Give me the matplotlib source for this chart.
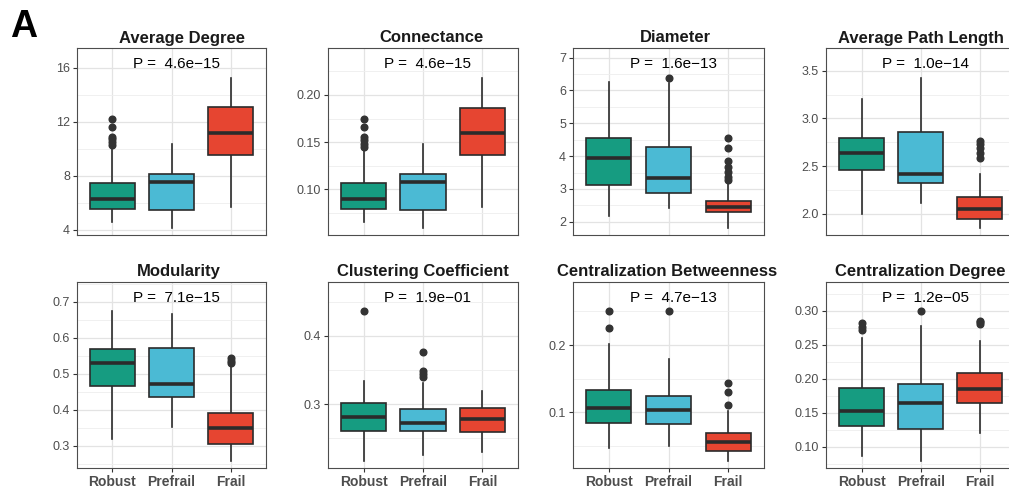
import matplotlib
matplotlib.use("Agg")
import matplotlib.pyplot as plt
from matplotlib.ticker import FixedLocator, FormatStrFormatter

plt.rcParams['font.family'] = ['Liberation Sans', 'DejaVu Sans']

# ---------------- data ----------------
groups = ["Robust", "Prefrail", "Frail"]
titles = ["Average Degree", "Connectance", "Diameter", "Average Path Length",
          "Modularity", "Clustering Coefficient", "Centralization Betweenness",
          "Centralization Degree"]
p_labels = ["P =  4.6e\u221215", "P =  4.6e\u221215", "P =  1.6e\u221213", "P =  1.0e\u221214",
            "P =  7.1e\u221215", "P =  1.9e\u221201", "P =  4.7e\u221213", "P =  1.2e\u221205"]

medians = [[6.27, 7.57, 11.2], [0.0894, 0.108, 0.160], [3.93, 3.32, 2.46], [2.634, 2.42, 2.046],
           [0.531, 0.472, 0.348], [0.2804, 0.2725, 0.278], [0.1068, 0.1034, 0.0554],
           [0.153, 0.1643, 0.1849]]
q1 = [[5.55, 5.48, 9.55], [0.0795, 0.078, 0.1367], [3.12, 2.88, 2.29], [2.455, 2.319, 1.95],
      [0.4667, 0.4344, 0.304], [0.2603, 0.2603, 0.2593], [0.0846, 0.083, 0.0425],
      [0.1309, 0.1256, 0.1643]]
q3 = [[7.50, 8.14, 13.07], [0.1067, 0.1162, 0.1864], [4.54, 4.27, 2.64], [2.80, 2.854, 2.178],
      [0.5686, 0.5706, 0.3917], [0.301, 0.2926, 0.2946], [0.1331, 0.1247, 0.0688],
      [0.1868, 0.1918, 0.2088]]
whisk_lo = [[4.57, 4.12, 5.72], [0.065, 0.0593, 0.0816], [2.17, 2.41, 1.82], [1.993, 2.115, 1.853],
            [0.318, 0.353, 0.258], [0.2166, 0.225, 0.2299], [0.0474, 0.050, 0.028],
            [0.0868, 0.0794, 0.1197]]
whisk_hi = [[10.15, 10.36, 15.27], [0.1434, 0.148, 0.2182], [6.27, 6.22, 3.22], [3.20, 3.427, 2.417],
            [0.674, 0.665, 0.518], [0.3338, 0.3304, 0.3196], [0.201, 0.179, 0.102],
            [0.2594, 0.2775, 0.2559]]
outliers = [
    [[12.2, 11.6, 10.9, 10.7, 10.5, 10.3], [], []],
    [[0.1745, 0.1657, 0.1557, 0.152, 0.148, 0.1451], [], []],
    [[], [6.39], [4.54, 4.26, 3.86, 3.68, 3.52, 3.37, 3.27]],
    [[], [], [2.766, 2.73, 2.686, 2.634, 2.59]],
    [[], [], [0.543, 0.535, 0.529]],
    [[0.437], [0.377, 0.349, 0.344, 0.340], []],
    [[0.251, 0.225], [0.251], [0.143, 0.1297, 0.1108]],
    [[0.2815, 0.2765, 0.2716], [0.300], [0.2853, 0.2830, 0.2804]],
]
ylims = [(3.63, 17.46), (0.0516, 0.2497), (1.595, 7.295), (1.777, 3.74),
         (0.238, 0.7547), (0.2059, 0.4794), (0.0172, 0.2938), (0.0687, 0.3422)]
major_ticks = [[4, 8, 12, 16], [0.10, 0.15, 0.20], [2, 3, 4, 5, 6, 7], [2.0, 2.5, 3.0, 3.5],
               [0.3, 0.4, 0.5, 0.6, 0.7], [0.3, 0.4], [0.1, 0.2], [0.10, 0.15, 0.20, 0.25, 0.30]]
minor_ticks = [[6, 10, 14], [0.075, 0.125, 0.175, 0.225], [2.5, 3.5, 4.5, 5.5, 6.5],
               [2.25, 2.75, 3.25], [0.25, 0.35, 0.45, 0.55, 0.65, 0.75], [0.25, 0.35, 0.45],
               [0.05, 0.15, 0.25], [0.075, 0.125, 0.175, 0.225, 0.275, 0.325]]
tick_fmt = ["%d", "%.2f", "%d", "%.1f", "%.1f", "%.1f", "%.1f", "%.2f"]

colors = ["#169C81", "#4BBAD4", "#E64531"]

# ---------------- layout ----------------
W, H = 1009, 496
fig = plt.figure(figsize=(W / 100, H / 100), dpi=100)
fig.patch.set_facecolor("white")

col_left = [77, 328, 573, 826]
col_w = [189, 190, 191, 189.5]
row_top = [48, 282]
row_h = [187, 186]
title_cx = [182, 431.5, 675, 920.5, 178.7, 422.7, 667.5, 920]
title_base = [42.5, 276]

edge = "#2b2b2b"
for i in range(8):
    r, c = divmod(i, 4)
    l, t, w, h = col_left[c], row_top[r], col_w[c], row_h[r]
    ax = fig.add_axes([l / W, 1 - (t + h) / H, w / W, h / H])
    ax.set_facecolor("white")
    stats = []
    for g in range(3):
        stats.append(dict(med=medians[i][g], q1=q1[i][g], q3=q3[i][g],
                          whislo=whisk_lo[i][g], whishi=whisk_hi[i][g],
                          fliers=outliers[i][g], label=groups[g]))
    bp = ax.bxp(stats, positions=[1, 2, 3], widths=0.76, patch_artist=True,
                showfliers=True,
                boxprops=dict(edgecolor=edge, linewidth=1.2),
                medianprops=dict(color=edge, linewidth=2.6),
                whiskerprops=dict(color=edge, linewidth=1.2),
                capprops=dict(linewidth=0),
                flierprops=dict(marker='o', markerfacecolor="#333333",
                                markeredgecolor="#333333", markersize=4.8))
    for patch, col in zip(bp['boxes'], colors):
        patch.set_facecolor(col)
    for b in bp['boxes']:
        b.set_zorder(3)
    for m in bp['medians']:
        m.set_zorder(4)

    ax.set_xlim(0.4, 3.6)
    ax.set_ylim(*ylims[i])
    ax.yaxis.set_major_locator(FixedLocator(major_ticks[i]))
    ax.yaxis.set_minor_locator(FixedLocator(minor_ticks[i]))
    ax.yaxis.set_major_formatter(FormatStrFormatter(tick_fmt[i]))
    ax.set_xticks([1, 2, 3])
    ax.grid(True, which='major', color="#e3e3e3", linewidth=0.9, zorder=0)
    ax.grid(True, which='minor', axis='y', color="#eeeeee", linewidth=0.6, zorder=0)
    ax.set_axisbelow(True)
    ax.tick_params(axis='y', which='major', labelsize=9, labelcolor="#4d4d4d",
                   color="#333333", length=3, width=0.8, pad=2)
    ax.tick_params(axis='y', which='minor', length=0)
    if r == 1:
        ax.set_xticklabels(groups, fontsize=10, fontweight='bold', color="#4d4d4d")
        ax.tick_params(axis='x', color="#333333", length=3, width=0.8, pad=2)
    else:
        ax.set_xticklabels([])
        ax.tick_params(axis='x', length=0)
    for s in ax.spines.values():
        s.set_color("#4d4d4d")
        s.set_linewidth(0.8)

    ax.text(2.08, 0.892, p_labels[i], transform=ax.get_xaxis_transform(),
            ha='center', va='baseline', fontsize=11, color="black")
    fig.text(title_cx[i] / W, 1 - title_base[r] / H, titles[i], ha='center',
             va='baseline', fontsize=12, fontweight='bold', color="#1a1a1a")

fig.text(10 / W, 1 - 37 / H, "A", ha='left', va='baseline', fontsize=27,
         fontweight='bold', color="black")

fig.savefig("out.png", dpi=100, facecolor="white")
